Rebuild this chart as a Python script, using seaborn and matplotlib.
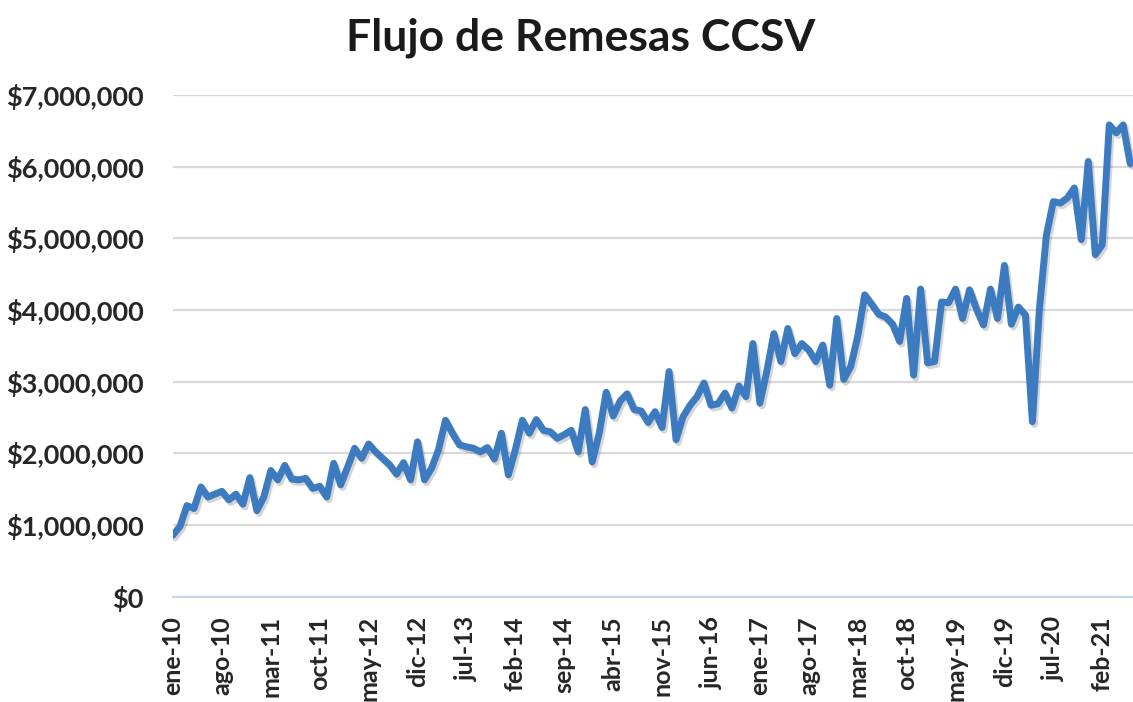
import numpy as np
import pandas as pd
import matplotlib
matplotlib.use('Agg')
import matplotlib.pyplot as plt
import matplotlib.patheffects as pe
from matplotlib.ticker import FuncFormatter
import seaborn as sns

# Flujo mensual de remesas (millones de USD), ene-2010 a jun-2021
remesas_millones = [
    0.86, 0.98, 1.27, 1.23, 1.53, 1.39, 1.43, 1.47, 1.35, 1.43,
    1.29, 1.66, 1.20, 1.39, 1.76, 1.63, 1.83, 1.64, 1.63, 1.65,
    1.51, 1.54, 1.39, 1.86, 1.56, 1.81, 2.07, 1.93, 2.13, 2.02,
    1.93, 1.84, 1.71, 1.87, 1.63, 2.16, 1.63, 1.79, 2.05, 2.46,
    2.28, 2.12, 2.09, 2.07, 2.02, 2.08, 1.92, 2.28, 1.70, 2.05,
    2.46, 2.28, 2.47, 2.32, 2.30, 2.21, 2.26, 2.32, 2.02, 2.61,
    1.88, 2.28, 2.85, 2.52, 2.73, 2.83, 2.61, 2.59, 2.43, 2.58,
    2.36, 3.14, 2.19, 2.51, 2.67, 2.79, 2.98, 2.67, 2.69, 2.84,
    2.63, 2.94, 2.79, 3.53, 2.70, 3.15, 3.67, 3.28, 3.74, 3.39,
    3.53, 3.44, 3.28, 3.51, 2.95, 3.88, 3.03, 3.21, 3.63, 4.21,
    4.08, 3.94, 3.90, 3.80, 3.56, 4.16, 3.09, 4.29, 3.26, 3.28,
    4.11, 4.10, 4.29, 3.88, 4.28, 4.01, 3.79, 4.29, 3.88, 4.62,
    3.80, 4.04, 3.93, 2.44, 4.00, 5.04, 5.51, 5.49, 5.56, 5.70,
    4.98, 6.07, 4.77, 4.91, 6.58, 6.47, 6.58, 6.04,
]

etiquetas_x = ['ene-10', 'ago-10', 'mar-11', 'oct-11', 'may-12', 'dic-12',
               'jul-13', 'feb-14', 'sep-14', 'abr-15', 'nov-15', 'jun-16',
               'ene-17', 'ago-17', 'mar-18', 'oct-18', 'may-19', 'dic-19',
               'jul-20', 'feb-21']
paso_etiqueta = 7  # una etiqueta cada 7 meses

df = pd.DataFrame({
    'mes': np.arange(len(remesas_millones)),
    'monto': np.array(remesas_millones) * 1_000_000,
})

sns.set_theme(style='white')
plt.rcParams['font.family'] = ['Lato', 'DejaVu Sans']

fig = plt.figure(figsize=(11.33, 7.02), dpi=100)
ax = fig.add_axes([173 / 1133, 105.3 / 702, 960 / 1133, 501.9 / 702])

sns.lineplot(data=df, x='mes', y='monto', ax=ax, color='#3d7bc0',
             linewidth=5.0, solid_joinstyle='round', zorder=3,
             path_effects=[pe.SimpleLineShadow(offset=(1.5, -2), alpha=0.18),
                           pe.Normal()])

ax.set_xlim(0, 137.4)
ax.set_ylim(0, 7_000_000)
ax.set_yticks(np.arange(0, 7_000_001, 1_000_000))
ax.yaxis.set_major_formatter(FuncFormatter(lambda v, p: f'${v:,.0f}'))
ax.set_xticks(np.arange(len(etiquetas_x)) * paso_etiqueta)
ax.set_xticklabels(etiquetas_x, rotation=90)

ax.grid(axis='y', color='#d9d9d9', linewidth=1.6)
ax.set_axisbelow(True)
for lado in ['top', 'right', 'left']:
    ax.spines[lado].set_visible(False)
ax.spines['bottom'].set_color('#c6d6eb')
ax.spines['bottom'].set_linewidth(1.6)

ax.tick_params(axis='x', length=6, width=1.4, color='#c6d6eb', pad=8,
               labelsize=18, labelcolor='#262626')
ax.tick_params(axis='y', length=0, pad=21, labelsize=19.5, labelcolor='#262626')
for t in ax.get_xticklabels() + ax.get_yticklabels():
    t.set_fontweight('bold')

ax.set_xlabel('')
ax.set_ylabel('')

fig.text(581 / 1133, 1 - 50 / 702, 'Flujo de Remesas CCSV', ha='center',
         va='baseline', fontsize=32, fontweight='bold', color='#1a1a1a')

plt.savefig('out.png', dpi=100)
